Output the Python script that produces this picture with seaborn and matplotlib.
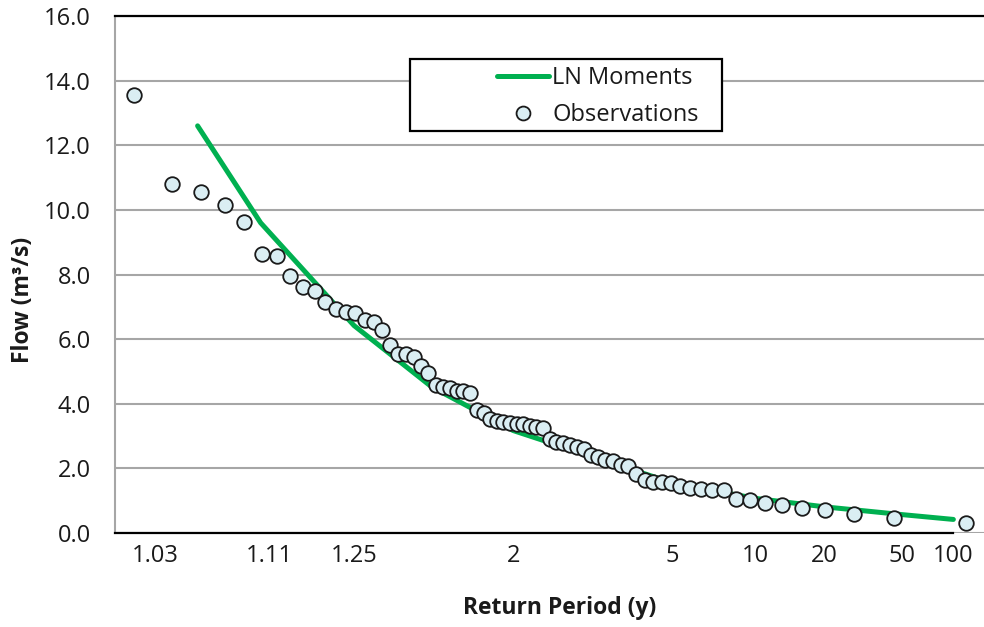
from statistics import NormalDist

import matplotlib
matplotlib.use("Agg")
import matplotlib.pyplot as plt
from matplotlib.lines import Line2D
from matplotlib.patches import Rectangle
import pandas as pd
import seaborn as sns

# Observed low flows (m3/s), ranked, with their plotting-position return periods (years)
obs_return_period = [
    1.023, 1.037, 1.052, 1.068, 1.084, 1.101, 1.118, 1.135, 1.153, 1.172,
    1.191, 1.211, 1.232, 1.253, 1.276, 1.299, 1.322, 1.347, 1.373, 1.399,
    1.427, 1.456, 1.486, 1.517, 1.549, 1.583, 1.619, 1.656, 1.695, 1.736,
    1.778, 1.823, 1.870, 1.920, 1.973, 2.028, 2.087, 2.149, 2.215, 2.285,
    2.359, 2.439, 2.524, 2.616, 2.714, 2.820, 2.935, 3.059, 3.195, 3.343,
    3.505, 3.684, 3.882, 4.102, 4.349, 4.628, 4.945, 5.309, 5.730, 6.224,
    6.811, 7.521, 8.395, 9.500, 10.939, 12.893, 15.696, 20.056, 27.769, 45.125,
    120.33,
]
obs_flow = [
    13.57, 10.80, 10.55, 10.15, 9.64, 8.63, 8.58, 7.94, 7.61, 7.50,
    7.16, 6.93, 6.85, 6.82, 6.59, 6.54, 6.28, 5.82, 5.54, 5.53,
    5.46, 5.17, 4.94, 4.58, 4.53, 4.48, 4.41, 4.39, 4.33, 3.80,
    3.71, 3.52, 3.47, 3.43, 3.40, 3.37, 3.36, 3.31, 3.29, 3.24,
    2.90, 2.83, 2.78, 2.72, 2.65, 2.59, 2.41, 2.34, 2.26, 2.24,
    2.11, 2.06, 1.83, 1.64, 1.59, 1.57, 1.54, 1.46, 1.40, 1.36,
    1.33, 1.33, 1.04, 1.02, 0.92, 0.87, 0.76, 0.71, 0.59, 0.46,
    0.31,
]

# Log-normal (method of moments) quantiles
fit_return_period = [1.05, 1.1, 1.25, 1.5, 2, 5, 10, 20, 50, 100]
fit_flow = [12.6, 9.6, 6.42, 4.52, 3.17, 1.55, 1.07, 0.81, 0.57, 0.42]

tick_return_periods = [1.03, 1.11, 1.25, 2, 5, 10, 20, 50, 100]
tick_labels = ["1.03", "1.11", "1.25", "2", "5", "10", "20", "50", "100"]
flow_ticks = [0, 2, 4, 6, 8, 10, 12, 14, 16]

std_normal = NormalDist()


def reduced_variate(T):
    """Standard normal variate of the non-exceedance probability 1 - 1/T."""
    return std_normal.inv_cdf(1.0 - 1.0 / T)


obs = pd.DataFrame({"T": obs_return_period, "flow": obs_flow})
obs["z"] = obs["T"].map(reduced_variate)
fit = pd.DataFrame({"T": fit_return_period, "flow": fit_flow})
fit["z"] = fit["T"].map(reduced_variate)

sns.set_theme(style="white")
plt.rcParams["font.family"] = ["Open Sans", "DejaVu Sans"]

GREEN = "#00B050"
GRID = "#A6A6A6"
TEXT = "#1a1a1a"
FILL = "#DAEEF3"

fig = plt.figure(figsize=(9.84, 6.27), dpi=100)
ax = fig.add_axes([115 / 984, 94 / 627, 889 / 984, 517 / 627])

sns.lineplot(data=fit, x="z", y="flow", sort=False, color=GREEN, linewidth=3.6,
             legend=False, ax=ax, zorder=2)
ax.lines[-1].set_solid_capstyle("round")
sns.scatterplot(data=obs, x="z", y="flow", s=110, color=FILL,
                edgecolor="#1a1a1a", linewidth=1.3, legend=False, ax=ax, zorder=3)

ax.set_xlim(-2.105, 2.594)
ax.set_ylim(0, 16)
ax.set_yticks(flow_ticks)
ax.set_yticklabels([f"{v:.1f}" for v in flow_ticks])
ax.set_xticks([reduced_variate(t) for t in tick_return_periods])
ax.set_xticklabels(tick_labels)

ax.yaxis.grid(True, color=GRID, linewidth=1.5)
ax.xaxis.grid(False)
ax.set_axisbelow(True)

ax.spines["left"].set_color(GRID)
ax.spines["left"].set_linewidth(1.5)
ax.spines["right"].set_visible(False)
ax.spines["top"].set_color("black")
ax.spines["top"].set_linewidth(1.6)
ax.spines["bottom"].set_color("black")
ax.spines["bottom"].set_linewidth(1.6)
ax.spines["bottom"].set_bounds(-2.105, reduced_variate(100))

ax.tick_params(axis="x", direction="inout", length=8, width=1.3, color="black",
               pad=4, labelsize=17, labelcolor=TEXT)
ax.tick_params(axis="y", direction="out", length=4.5, width=1.3, color=GRID,
               pad=13, labelsize=17, labelcolor=TEXT)

ax.set_xlabel("Return Period (y)", fontsize=16.5, fontweight="bold", color=TEXT)
ax.set_ylabel("Flow (m³/s)", fontsize=16.5, fontweight="bold", color=TEXT)
ax.xaxis.set_label_coords(0.5, -0.122)
ax.yaxis.set_label_coords(-0.09, 0.45)

# Legend box with its entries
ax.add_patch(Rectangle((410 / 984, 496 / 627), 312 / 984, 72 / 627,
                       transform=fig.transFigure, facecolor="white",
                       edgecolor="black", linewidth=1.6, zorder=5, clip_on=False))
handles = [
    Line2D([], [], color=GREEN, linewidth=3.6, solid_capstyle="round"),
    Line2D([], [], linestyle="none", marker="o", markersize=10,
           markerfacecolor=FILL, markeredgecolor="#1a1a1a", markeredgewidth=1.3),
]
leg = ax.legend(handles, ["LN Moments", "Observations"], loc="center left",
                bbox_to_anchor=(497 / 984, (627 - 96.7) / 627),
                bbox_transform=fig.transFigure, frameon=False, fontsize=17,
                handlelength=2.2, handletextpad=0.15, labelspacing=0.55,
                borderpad=0, borderaxespad=0)
leg.set_zorder(6)
for t in leg.get_texts():
    t.set_color(TEXT)

fig.savefig("out.png", dpi=100)
